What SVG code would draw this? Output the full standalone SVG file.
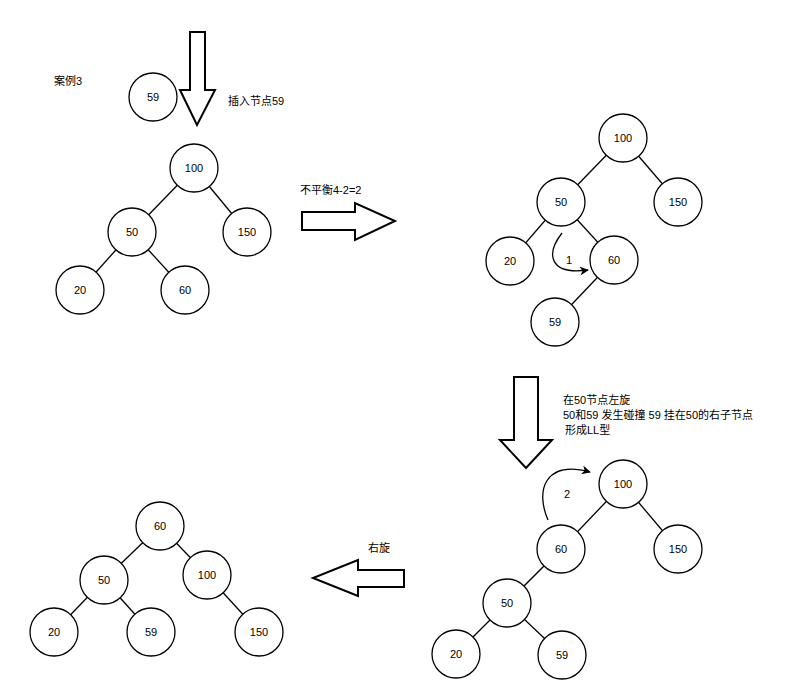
<svg xmlns="http://www.w3.org/2000/svg" width="807" height="700" viewBox="0 0 807 700">
<style>
.n circle{fill:#fff;stroke:#000;stroke-width:1.3}
text{font-family:"Liberation Sans","Noto Sans CJK SC",sans-serif;font-size:11px;fill:#000}
.n text{text-anchor:middle;dominant-baseline:central}
.e line{stroke:#000;stroke-width:1.3}
.big{fill:#fff;stroke:#000;stroke-width:2}
.cv{fill:none;stroke:#000;stroke-width:1.3}
</style>
<defs><marker id="ah" viewBox="0 0 10 10" refX="9" refY="5" markerWidth="7" markerHeight="7" orient="auto"><path d="M0,0L10,5L0,10L3,5Z" fill="#000"/></marker></defs>
<rect width="807" height="700" fill="#fff"/>
<g class="e">
<line x1="194" y1="168" x2="132" y2="232"/><line x1="194" y1="168" x2="247" y2="232"/><line x1="132" y1="232" x2="80" y2="290"/><line x1="132" y1="232" x2="185" y2="290"/>
<line x1="623" y1="138" x2="561" y2="202"/><line x1="623" y1="138" x2="678" y2="202"/><line x1="561" y1="202" x2="510" y2="261"/><line x1="561" y1="202" x2="614" y2="260"/><line x1="614" y1="260" x2="555" y2="322"/>
<line x1="623" y1="484" x2="561" y2="549"/><line x1="623" y1="484" x2="678" y2="549"/><line x1="561" y1="549" x2="507" y2="603"/><line x1="507" y1="603" x2="456" y2="654"/><line x1="507" y1="603" x2="562" y2="655"/>
<line x1="160" y1="526" x2="104" y2="580"/><line x1="160" y1="526" x2="207" y2="575"/><line x1="104" y1="580" x2="54" y2="632"/><line x1="104" y1="580" x2="151" y2="632"/><line x1="207" y1="575" x2="259" y2="632"/>
<path class="cv" d="M562,233 C545,255 550,275 588,270" marker-end="url(#ah)"/>
<path class="cv" d="M548,520 C535,490 545,460 590,472" marker-end="url(#ah)"/>
<path class="big" d="M190,32H205V90H215L197,125L180,90H190Z"/>
<path class="big" d="M302,212H355V203L395,221L355,240V230H302Z"/>
<path class="big" d="M514,377H538V440H552L526,468L500,440H514Z"/>
<path class="big" d="M404,570H358V560L313,578L358,596V587H404Z"/>
</g>
<g class="n" id="t1_59"><circle cx="153" cy="97" r="24"/><text x="153" y="97">59</text></g>
<g class="n" id="t1_100"><circle cx="194" cy="168" r="24"/><text x="194" y="168">100</text></g>
<g class="n" id="t1_50"><circle cx="132" cy="232" r="24"/><text x="132" y="232">50</text></g>
<g class="n" id="t1_150"><circle cx="247" cy="232" r="24"/><text x="247" y="232">150</text></g>
<g class="n" id="t1_20"><circle cx="80" cy="290" r="24"/><text x="80" y="290">20</text></g>
<g class="n" id="t1_60"><circle cx="185" cy="290" r="24"/><text x="185" y="290">60</text></g>
<g class="n" id="t2_100"><circle cx="623" cy="138" r="24"/><text x="623" y="138">100</text></g>
<g class="n" id="t2_50"><circle cx="561" cy="202" r="24"/><text x="561" y="202">50</text></g>
<g class="n" id="t2_150"><circle cx="678" cy="202" r="24"/><text x="678" y="202">150</text></g>
<g class="n" id="t2_20"><circle cx="510" cy="261" r="24"/><text x="510" y="261">20</text></g>
<g class="n" id="t2_60"><circle cx="614" cy="260" r="24"/><text x="614" y="260">60</text></g>
<g class="n" id="t2_59"><circle cx="555" cy="322" r="24"/><text x="555" y="322">59</text></g>
<g class="n" id="t3_100"><circle cx="623" cy="484" r="24"/><text x="623" y="484">100</text></g>
<g class="n" id="t3_60"><circle cx="561" cy="549" r="24"/><text x="561" y="549">60</text></g>
<g class="n" id="t3_150"><circle cx="678" cy="549" r="24"/><text x="678" y="549">150</text></g>
<g class="n" id="t3_50"><circle cx="507" cy="603" r="24"/><text x="507" y="603">50</text></g>
<g class="n" id="t3_20"><circle cx="456" cy="654" r="24"/><text x="456" y="654">20</text></g>
<g class="n" id="t3_59"><circle cx="562" cy="655" r="24"/><text x="562" y="655">59</text></g>
<g class="n" id="t4_60"><circle cx="160" cy="526" r="24"/><text x="160" y="526">60</text></g>
<g class="n" id="t4_50"><circle cx="104" cy="580" r="24"/><text x="104" y="580">50</text></g>
<g class="n" id="t4_100"><circle cx="207" cy="575" r="24"/><text x="207" y="575">100</text></g>
<g class="n" id="t4_20"><circle cx="54" cy="632" r="24"/><text x="54" y="632">20</text></g>
<g class="n" id="t4_59"><circle cx="151" cy="632" r="24"/><text x="151" y="632">59</text></g>
<g class="n" id="t4_150"><circle cx="259" cy="632" r="24"/><text x="259" y="632">150</text></g>
<text x="54" y="85">案例3</text>
<text x="228" y="105">插入节点59</text>
<text x="300" y="194">不平衡4-2=2</text>
<text x="566" y="264">1</text>
<text x="564" y="498">2</text>
<text x="368" y="552">右旋</text>
<text x="563" y="404">在50节点左旋</text>
<text x="563" y="419">50和59 发生碰撞 59 挂在50的右子节点</text>
<text x="565" y="434">形成LL型</text>
</svg>
